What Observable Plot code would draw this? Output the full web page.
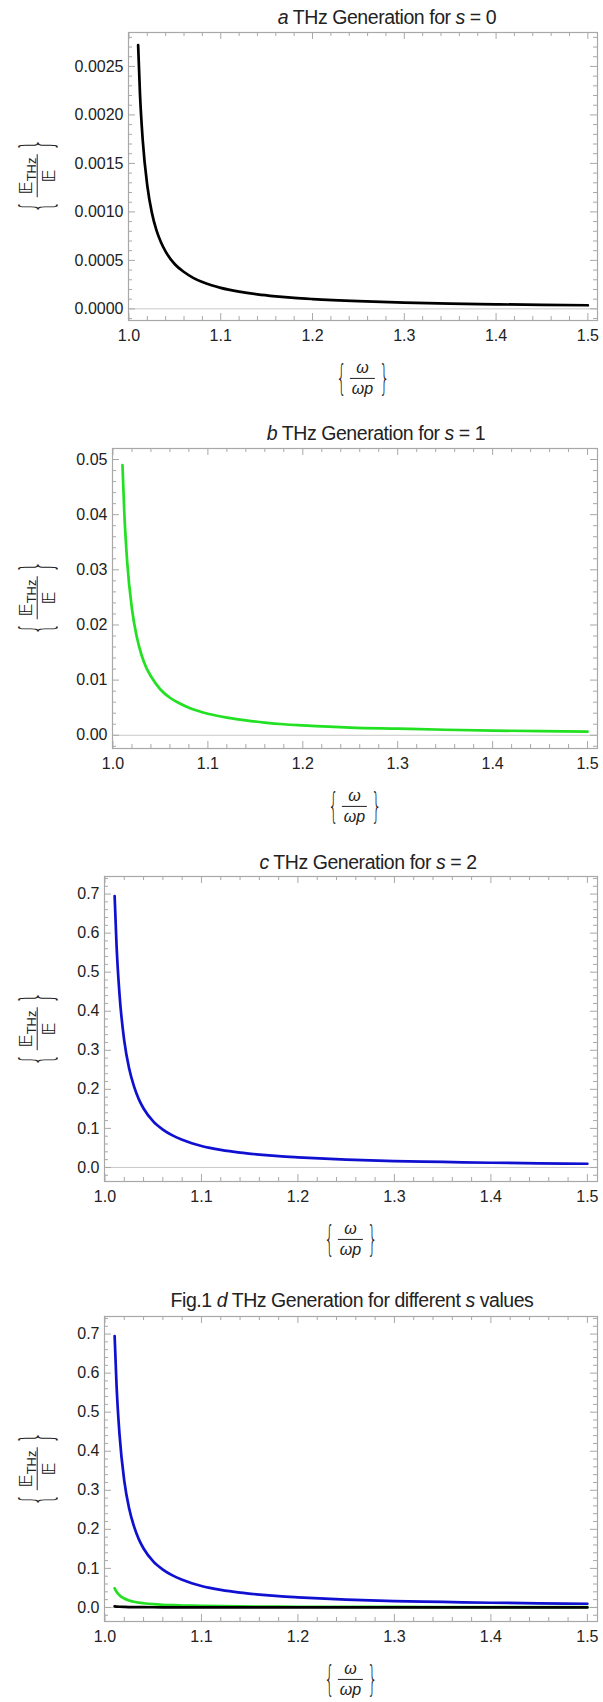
<!DOCTYPE html>
<html><head><meta charset="utf-8">
<script src="https://cdn.jsdelivr.net/npm/d3@7"></script>
<script src="https://cdn.jsdelivr.net/npm/@observablehq/plot@0.6"></script>
<style>
body{margin:0;background:#fff;}
#fig{position:relative;width:603px;height:1702px;overflow:hidden;font-family:"Liberation Sans",Arial,sans-serif;color:#222;}
.title{position:absolute;font-size:19.5px;white-space:nowrap;transform:translate(-50%,-50%);letter-spacing:-0.45px;}
.plot{position:absolute;left:0;}
.ylab,.xlab{position:absolute;display:flex;align-items:center;white-space:nowrap;}
.ylab{transform:translate(-50%,-50%) rotate(-90deg);}
.xlab{transform:translate(-50%,-50%);}
.frac{display:inline-flex;flex-direction:column;align-items:center;margin:0 1px;}
.frac .num{border-bottom:1.3px solid #222;padding:0 3px 1px;line-height:1.1;}
.frac .den{padding-top:1px;line-height:1.1;}
.brace{display:inline-block;font-family:"DejaVu Sans";font-weight:200;line-height:1;transform:scaleX(0.45);}
.dbl{font-family:"DejaVu Sans";font-size:18px;color:#111;}
.sub{font-size:13px;position:relative;top:4px;}
</style></head><body><div id="fig"></div>
<script>
// ---- data ----
const omegaRatio = [1.01, 1.012, 1.015, 1.02, 1.025, 1.03, 1.035, 1.04, 1.05, 1.06, 1.07, 1.08, 1.09, 1.10, 1.12, 1.14, 1.16, 1.18, 1.20, 1.25, 1.30, 1.35, 1.40, 1.45, 1.50];
const ethzS0 = [0.00272, 0.00222, 0.00174, 0.00127, 0.00099, 0.00081, 0.000685, 0.00059, 0.00046, 0.00038, 0.00032, 0.000276, 0.000243, 0.000216, 0.000177, 0.000149, 0.000129, 0.000113, 0.000101, 0.000079, 0.000064, 0.000054, 0.000047, 0.000041, 0.000037];
const ethzS1 = [0.049, 0.0401, 0.0314, 0.0229, 0.0179, 0.0146, 0.0123, 0.0107, 0.0083, 0.0068, 0.0058, 0.0050, 0.0044, 0.0039, 0.0032, 0.0027, 0.0023, 0.0020, 0.0018, 0.0014, 0.0012, 0.0010, 0.00085, 0.00074, 0.00066];
const ethzS2 = [0.695, 0.568, 0.445, 0.324, 0.254, 0.208, 0.175, 0.151, 0.118, 0.097, 0.082, 0.071, 0.062, 0.055, 0.045, 0.038, 0.033, 0.029, 0.026, 0.020, 0.016, 0.014, 0.012, 0.0106, 0.0094];

const xTicks = [1.0, 1.1, 1.2, 1.3, 1.4, 1.5];
const yTicksA = [0, 0.0005, 0.0010, 0.0015, 0.0020, 0.0025];
const yTicksB = [0, 0.01, 0.02, 0.03, 0.04, 0.05];
const yTicksC = [0, 0.1, 0.2, 0.3, 0.4, 0.5, 0.6, 0.7];

const titles = [
  '<i>a</i> THz Generation for <i>s</i> = 0',
  '<i>b</i> THz Generation for <i>s</i> = 1',
  '<i>c</i> THz Generation for <i>s</i> = 2',
  'Fig.1 <i>d</i> THz Generation for different <i>s</i> values'
];

const black = "#000", green = "#22e022", blue = "#1010d0";
const rows = (ys) => omegaRatio.map((x, i) => ({x, y: ys[i]}));

const panels = [
  {series: [[ethzS0, black]], yDomain: [-0.00012, 0.00285], yTicks: yTicksA, yMinor: 0.0001, fmt: ".4f", top: 32, left: 128, h: 288, titleX: 387, titleY: 17},
  {series: [[ethzS1, green]], yDomain: [-0.0024, 0.052], yTicks: yTicksB, yMinor: 0.002, fmt: ".2f", top: 448, left: 112, h: 300, titleX: 376, titleY: 433},
  {series: [[ethzS2, blue]], yDomain: [-0.036, 0.745], yTicks: yTicksC, yMinor: 0.02, fmt: ".1f", top: 876, left: 104, h: 305, titleX: 368, titleY: 862},
  {series: [[ethzS2, blue], [ethzS1, green], [ethzS0, black]], yDomain: [-0.036, 0.745], yTicks: yTicksC, yMinor: 0.02, fmt: ".1f", top: 1316, left: 104, h: 305, titleX: 352, titleY: 1300}
];

const W = 603, RIGHT = 597, MT = 2, MB = 40;
const xDomain = [0.9995, 1.5105];
const fig = document.getElementById("fig");
const frameCol = "#a8a8a8";

function minorTicks(step, dom, majors) {
  const out = [];
  const n0 = Math.ceil(dom[0] / step - 1e-9), n1 = Math.floor(dom[1] / step + 1e-9);
  for (let n = n0; n <= n1; n++) {
    const v = +(n * step).toFixed(8);
    if (!majors.some(m => Math.abs(m - v) < step / 10)) out.push(v);
  }
  return out;
}

panels.forEach((p, k) => {
  const plotW = RIGHT - p.left;
  const xMinor = minorTicks(0.02, xDomain, xTicks);
  const yMinor = minorTicks(p.yMinor, p.yDomain, p.yTicks);
  const tk = {stroke: frameCol, strokeWidth: 1};
  const marks = [
    Plot.ruleY([0], {y: d => d, stroke: "#c8c8c8", strokeWidth: 1}),
    Plot.ruleX(xMinor, {x: d => d, insetTop: p.h - 4, ...tk}),
    Plot.ruleX(xMinor, {x: d => d, insetBottom: p.h - 4, ...tk}),
    Plot.ruleX(xTicks, {x: d => d, insetTop: p.h - 7, ...tk}),
    Plot.ruleX(xTicks, {x: d => d, insetBottom: p.h - 7, ...tk}),
    Plot.ruleY(yMinor, {y: d => d, insetRight: plotW - 4, ...tk}),
    Plot.ruleY(yMinor, {y: d => d, insetLeft: plotW - 4, ...tk}),
    Plot.ruleY(p.yTicks, {y: d => d, insetRight: plotW - 7, ...tk}),
    Plot.ruleY(p.yTicks, {y: d => d, insetLeft: plotW - 7, ...tk}),
    Plot.frame({stroke: frameCol, strokeWidth: 1.2}),
    Plot.axisX(xTicks, {tickSize: 0, tickPadding: 9, tickFormat: d3.format(".1f"), label: null, fill: "#222"}),
    Plot.axisY(p.yTicks, {tickSize: 0, tickPadding: 5, tickFormat: d3.format(p.fmt), label: null, fill: "#222"}),
    ...p.series.map(([ys, col]) => Plot.line(rows(ys), {x: "x", y: "y", stroke: col, strokeWidth: 2.7, curve: "monotone-x"}))
  ];
  const svg = Plot.plot({
    width: W, height: p.h + MT + MB,
    marginTop: MT, marginBottom: MB, marginLeft: p.left, marginRight: W - RIGHT,
    x: {domain: xDomain, axis: null},
    y: {domain: p.yDomain, axis: null},
    style: {fontFamily: "'Liberation Sans', Arial, sans-serif", fontSize: "16px", color: "#222", background: "white", overflow: "visible"},
    marks
  });
  svg.classList.add("plot");
  svg.style.top = (p.top - MT) + "px";
  fig.appendChild(svg);

  const t = document.createElement("div");
  t.className = "title";
  t.style.left = p.titleX + "px";
  t.style.top = p.titleY + "px";
  t.innerHTML = titles[k];
  fig.appendChild(t);

  const yl = document.createElement("div");
  yl.className = "ylab";
  yl.style.left = "37px";
  yl.style.top = (p.top + p.h / 2) + "px";
  yl.innerHTML = '<span class="brace" style="font-size:42px;margin:0 -5px">{</span><span class="frac"><span class="num"><span class="dbl">𝔼</span><span class="sub">THz</span></span><span class="den"><span class="dbl">𝔼</span></span></span><span class="brace" style="font-size:42px;margin:0 -5px">}</span>';
  fig.appendChild(yl);

  const xl = document.createElement("div");
  xl.className = "xlab";
  xl.style.left = ((p.left + RIGHT) / 2) + "px";
  xl.style.top = (p.top + p.h + 58) + "px";
  xl.innerHTML = '<span class="brace" style="font-size:36px;margin:0 -3px">{</span><span class="frac" style="font-size:16px"><span class="num" style="padding:0 6px 1px"><i>ω</i></span><span class="den"><i>ωp</i></span></span><span class="brace" style="font-size:36px;margin:0 -3px">}</span>';
  fig.appendChild(xl);
});
</script></body></html>
